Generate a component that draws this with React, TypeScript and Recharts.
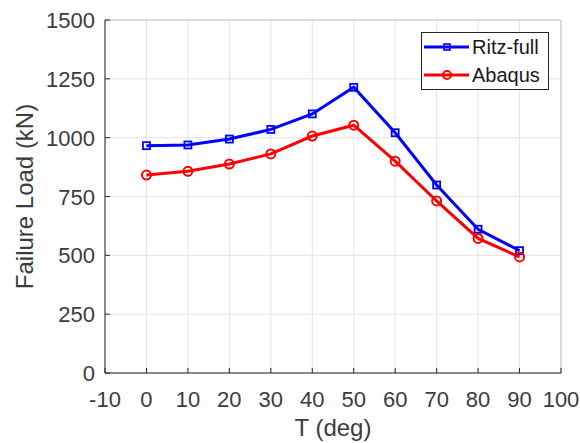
import React from 'react';
import {
  LineChart,
  Line,
  XAxis,
  YAxis,
  CartesianGrid,
  Legend,
  ReferenceLine,
  Label,
} from 'recharts';

const ANGLES = [0, 10, 20, 30, 40, 50, 60, 70, 80, 90];
const RITZ_FULL = [966, 969, 994, 1035, 1101, 1214, 1021, 799, 611, 520];
const ABAQUS = [841, 857, 888, 931, 1007, 1053, 900, 731, 572, 493];
const X_TICKS = [-10, 0, 10, 20, 30, 40, 50, 60, 70, 80, 90, 100];
const Y_TICKS = [0, 250, 500, 750, 1000, 1250, 1500];

const data = ANGLES.map((t, i) => ({ t, ritz: RITZ_FULL[i], abaqus: ABAQUS[i] }));

const FONT = '"Liberation Sans", Arial, Helvetica, sans-serif';
const INK = '#262626';
const TEXT = '#3c3c3c';
const BLUE = '#0000ff';
const RED = '#ff0000';

const XTick = (props: any) => {
  const { x, y, payload } = props;
  return (
    <g>
      <line x1={x} y1={y} x2={x} y2={y - 5} stroke={INK} strokeWidth={1} />
      <text x={x} y={y + 34} textAnchor="middle" fill={TEXT} fontSize={22} fontFamily={FONT}>
        {payload.value}
      </text>
    </g>
  );
};

const YTick = (props: any) => {
  const { x, y, payload } = props;
  return (
    <g>
      <line x1={x} y1={y} x2={x + 5} y2={y} stroke={INK} strokeWidth={1} />
      <text x={x - 10} y={y + 8} textAnchor="end" fill={TEXT} fontSize={22} fontFamily={FONT}>
        {payload.value}
      </text>
    </g>
  );
};

const SquareDot = (props: any) => {
  const { cx, cy, index } = props;
  return (
    <rect key={`sq-${index}`} x={cx - 3.5} y={cy - 3.5} width={7} height={7}
      fill="none" stroke={BLUE} strokeWidth={1.8} />
  );
};

const CircleDot = (props: any) => {
  const { cx, cy, index } = props;
  return <circle key={`ci-${index}`} cx={cx} cy={cy} r={4.5} fill="none" stroke={RED} strokeWidth={2} />;
};

const LegendBox = () => {
  const rows = [
    { name: 'Ritz-full', color: BLUE, marker: 'square' },
    { name: 'Abaqus', color: RED, marker: 'circle' },
  ];
  return (
    <div style={{
      border: `1px solid ${INK}`, background: '#fff', width: 126, height: 56,
      fontFamily: FONT, fontSize: 20, color: '#1a1a1a',
    }}>
      {rows.map((r) => (
        <div key={r.name} style={{ display: 'flex', alignItems: 'center', height: 28 }}>
          <svg width={50} height={28} style={{ display: 'block' }}>
            <line x1={2} y1={14} x2={47} y2={14} stroke={r.color} strokeWidth={3} />
            {r.marker === 'square'
              ? <rect x={22} y={11} width={6} height={6} fill="none" stroke={r.color} strokeWidth={1.6} />
              : <circle cx={25} cy={14} r={4} fill="none" stroke={r.color} strokeWidth={2} />}
          </svg>
          <span style={{ lineHeight: '28px' }}>{r.name}</span>
        </div>
      ))}
    </div>
  );
};

export default function App() {
  return (
    <div style={{ position: 'absolute', left: 0, top: 0, background: '#fff' }}>
      <LineChart width={580} height={443} data={data}
        margin={{ top: 20, right: 19, bottom: 0, left: 0 }}>
        <CartesianGrid stroke="#e3e3e3" strokeWidth={1}
          horizontalValues={Y_TICKS} verticalValues={X_TICKS} />
        <ReferenceLine y={1500} stroke="#c4c4c4" strokeWidth={1} />
        <ReferenceLine x={100} stroke="#c4c4c4" strokeWidth={1} />
        <XAxis dataKey="t" type="number" domain={[-10, 100]} ticks={X_TICKS}
          allowDataOverflow interval={0} height={70} tickSize={0} tickMargin={0}
          tickLine={false} stroke={INK} tick={<XTick />}>
          <Label value="T (deg)" position="insideBottom" offset={0} content={(p: any) => {
            const vb = p.viewBox;
            return (
              <text x={vb.x + vb.width / 2} y={vb.y + 63} textAnchor="middle"
                fill={TEXT} fontSize={24} fontFamily={FONT}>T (deg)</text>
            );
          }} />
        </XAxis>
        <YAxis type="number" domain={[0, 1500]} ticks={Y_TICKS} interval={0}
          width={105} tickSize={0} tickMargin={0} tickLine={false} stroke={INK} tick={<YTick />}>
          <Label content={(p: any) => {
            const vb = p.viewBox;
            const cy = vb.y + vb.height / 2;
            return (
              <text x={33} y={cy} transform={`rotate(-90, 33, ${cy})`} textAnchor="middle"
                fill={TEXT} fontSize={24} fontFamily={FONT}>Failure Load (kN)</text>
            );
          }} />
        </YAxis>
        <Legend layout="horizontal" verticalAlign="middle" align="center"
          wrapperStyle={{ position: 'absolute', left: 421, top: 32, width: 128, height: 58 }}
          content={() => <LegendBox />} />
        <Line type="linear" dataKey="ritz" name="Ritz-full" stroke={BLUE} strokeWidth={3}
          dot={SquareDot} activeDot={false} isAnimationActive={false} />
        <Line type="linear" dataKey="abaqus" name="Abaqus" stroke={RED} strokeWidth={3}
          dot={CircleDot} activeDot={false} isAnimationActive={false} />
      </LineChart>
    </div>
  );
}
